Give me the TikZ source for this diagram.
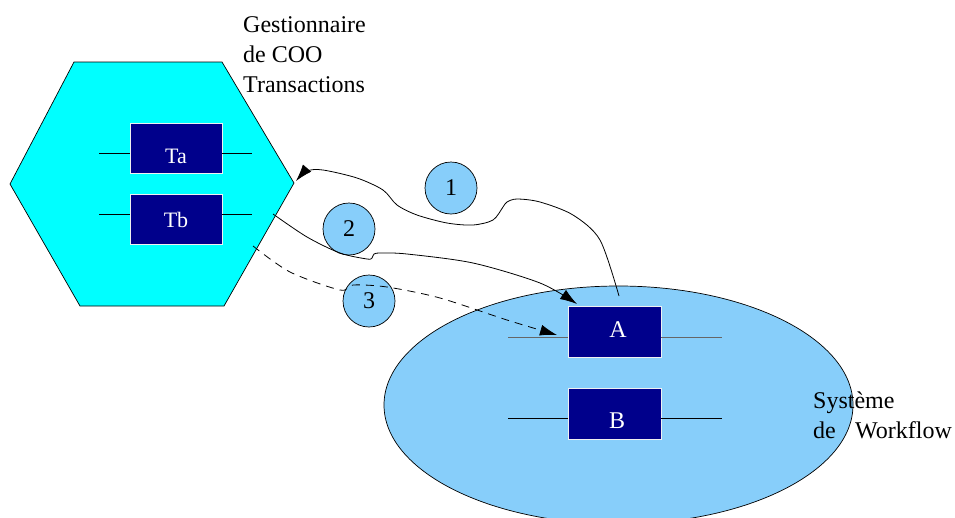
\documentclass[tikz,border=0pt]{standalone}
\usepackage{fontspec}
\setmainfont{Liberation Serif}
\usetikzlibrary{arrows.meta,shapes.geometric}
\definecolor{hexcyan}{RGB}{0,255,255}
\definecolor{skyb}{RGB}{135,206,250}
\definecolor{boxnavy}{RGB}{0,0,139}
\begin{document}
\begin{tikzpicture}[x=1pt,y=-1pt,
  tbox/.style={draw=white!88!gray, line width=0.8pt, fill=boxnavy, minimum width=92pt,
    minimum height=50pt, inner sep=0pt, text=white, font=\fontsize{22}{26}\selectfont},
  num/.style={circle, draw=black, line width=0.7pt, fill=skyb, minimum size=52pt,
    inner sep=0pt, font=\fontsize{24}{28}\selectfont},
  lbl/.style={anchor=base west, inner sep=0pt, font=\fontsize{24}{30}\selectfont},
  wire/.style={line width=0.8pt},
  conn/.style={line width=0.8pt, -{Latex[length=17pt,width=11pt]}},
  dconn/.style={conn, dash pattern=on 8pt off 6pt}]
\useasboundingbox (0,0) rectangle (955,517);
\clip (0,0) rectangle (955,517);
% hexagon
\coordinate (hL) at (10,184);
\coordinate (hTL) at (74,62);
\coordinate (hTR) at (222,62);
\coordinate (hR) at (294,183);
\coordinate (hBR) at (224,306);
\coordinate (hBL) at (80,306);
\draw[fill=hexcyan, line width=0.7pt] (hL) -- (hTL) -- (hTR) -- (hR) -- (hBR) -- (hBL) -- cycle;
\node[tbox, text height=30pt, text depth=0pt] (Ta) at (176,148) {Ta\hspace{12pt}};
\node[tbox, text height=16pt, text depth=0pt] (Tb) at (176,219) {Tb\hspace{10pt}};
\coordinate (TaL) at (99,153);
\coordinate (TaR) at (252,153);
\coordinate (TbL) at (99,214);
\coordinate (TbR) at (252,214);
\draw[wire] (TaL) -- (TaL -| Ta.west);
\draw[wire] (TaR -| Ta.east) -- (TaR);
\draw[wire] (TbL) -- (TbL -| Tb.west);
\draw[wire] (TbR -| Tb.east) -- (TbR);
% workflow ellipse
\node[ellipse, draw=black, line width=0.7pt, fill=skyb, minimum width=469pt,
  minimum height=238pt, inner sep=0pt] (wf) at (618.5,405) {};
\node[tbox, minimum width=93pt, minimum height=51pt, font=\fontsize{24}{28}\selectfont,
  text height=11pt, text depth=0pt] (A) at (614.5,331.5) {\hspace{7pt}A};
\node[tbox, minimum width=93pt, minimum height=51pt, font=\fontsize{24}{28}\selectfont,
  text height=29pt, text depth=0pt] (B) at (614.5,413.5) {\hspace{5pt}B};
\coordinate (AL) at (508,337);
\coordinate (AR) at (722,337);
\coordinate (BL) at (508,418);
\coordinate (BR) at (722,418);
\draw[wire, draw=black!60] (AL) -- (AL -| A.west);
\draw[wire, draw=black!60] (AR -| A.east) -- (AR);
\draw[wire] (BL) -- (BL -| B.west);
\draw[wire] (BR -| B.east) -- (BR);
% numbered circles
\node[num] (c1) at (451,188) {1};
\node[num] (c2) at (349,229) {2};
\node[num] (c3) at (369,301) {3};
% connectors
\coordinate (p1s) at (619,296);
\coordinate (p1e) at (296,181);
\draw[conn] plot[smooth, tension=0.5] coordinates {(p1s) (600,240) (573,215) (540,202)
  (517,199) (507,202) (503,207) (493,220) (473,225) (447,223) (417,215) (397,205)
  (383,190) (357,178) (323,170) (307,171) (p1e)};
\coordinate (p2s) at (273,214);
\coordinate (p2e) at (577,304);
\draw[conn] plot[smooth, tension=0.5] coordinates {(p2s) (307,237) (340,253) (367,259)
  (372,258) (374,254) (381,253) (407,254) (473,263) (540,283) (p2e)};
\coordinate (p3s) at (253,246);
\coordinate (p3e) at (557,335);
\draw[dconn] plot[smooth, tension=0.5] coordinates {(p3s) (290,272) (340,290)
  (353,285) (387,287) (440,298) (507,320) (p3e)};
% labels
\node[lbl] (g1) at (243,32) {Gestionnaire};
\node[lbl] (g2) at (243,62) {de COO};
\node[lbl] (g3) at (243,92) {Transactions};
\node[lbl] (s1) at (813,408) {Système};
\node[lbl] (s2) at (813,438) {de};
\node[lbl] (s3) at (855,438) {Workflow};
\end{tikzpicture}
\end{document}
